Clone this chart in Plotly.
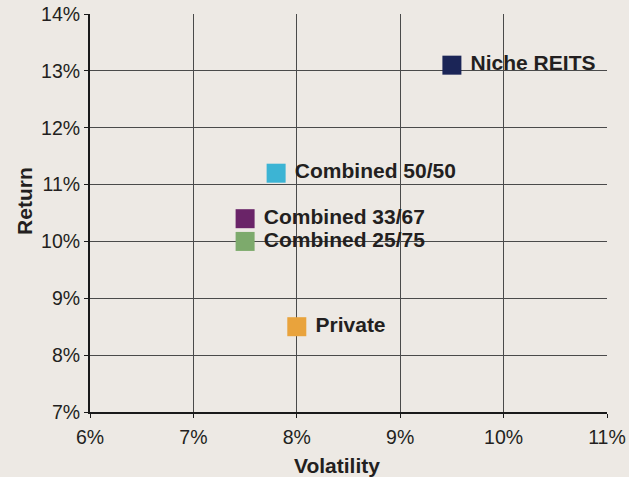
import plotly.graph_objects as go

names = ["Niche REITS", "Combined 50/50", "Combined 33/67", "Combined 25/75", "Private"]
volatility = [9.5, 7.8, 7.5, 7.5, 8.0]
returns = [13.1, 11.2, 10.4, 10.0, 8.5]
colors = ["#1B2557", "#3CB4D4", "#6A2468", "#7DAA6C", "#E9A33C"]

x_ticks = [6, 7, 8, 9, 10, 11]
x_tick_labels = ["6%", "7%", "8%", "9%", "10%", "11%"]
y_ticks = [7, 8, 9, 10, 11, 12, 13, 14]
y_tick_labels = ["7%", "8%", "9%", "10%", "11%", "12%", "13%", "14%"]

x_title = "Volatility"
y_title = "Return"

bg = "#EDE9E4"
ink = "#231F20"
font_family = "Liberation Sans, Arial, Helvetica, sans-serif"

fig = go.Figure()
fig.add_trace(go.Scatter(
    x=volatility, y=returns, mode="markers+text",
    text=["\u00a0" + n for n in names], textposition="middle right",
    textfont=dict(family=font_family, size=21, color=ink, weight="bold"),
    marker=dict(symbol="square", size=19, color=colors, line=dict(width=0)),
    cliponaxis=False, showlegend=False,
))

axis_common = dict(
    showgrid=True, gridcolor="#4a4a4a", gridwidth=1,
    zeroline=False, showline=True, linecolor="#1a1a1a", linewidth=2,
    ticks="outside", ticklen=4, tickcolor="#1a1a1a", tickwidth=1,
    tickfont=dict(family=font_family, size=19.5, color=ink),
    automargin=False,
)

fig.update_layout(
    width=629, height=477,
    margin=dict(l=90, r=22, t=14, b=65),
    paper_bgcolor=bg, plot_bgcolor=bg,
    xaxis=dict(range=[6, 11], tickvals=x_ticks, ticktext=x_tick_labels,
               ticklabelstandoff=3, **axis_common),
    yaxis=dict(range=[7, 14], tickvals=y_ticks, ticktext=y_tick_labels, **axis_common),
    annotations=[
        dict(text="<b>" + x_title + "</b>", xref="paper", yref="paper",
             x=0.478, y=-0.1, xanchor="center", yanchor="top", showarrow=False,
             font=dict(family=font_family, size=21, color=ink)),
        dict(text="<b>" + y_title + "</b>", xref="paper", yref="paper",
             x=-0.128, y=0.53, xanchor="center", yanchor="middle", showarrow=False,
             textangle=-90, font=dict(family=font_family, size=21, color=ink)),
    ],
)

fig.write_html("out.html")
